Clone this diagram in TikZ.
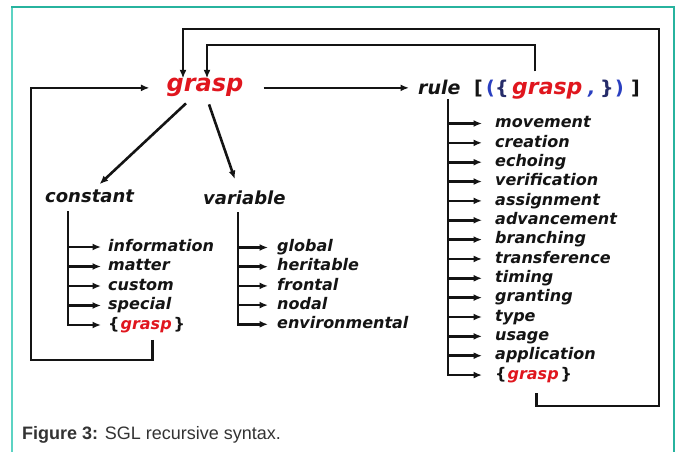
\documentclass[tikz,border=0pt]{standalone}
\usepackage{fontspec}
\usetikzlibrary{arrows.meta,calc}
\newfontfamily\djfont{DejaVu Sans}
\newfontfamily\capfont{Liberation Sans}
\definecolor{ink}{HTML}{141414}
\definecolor{gred}{HTML}{E0161E}
\definecolor{gblue}{HTML}{2A3FC0}
\definecolor{gnavy}{HTML}{262C6A}
\definecolor{frameteal}{HTML}{27B39E}
\definecolor{frameleft}{HTML}{5CD3C3}
\definecolor{captxt}{HTML}{333333}
\tikzset{
  lbl/.style={inner sep=0pt, text=ink},
  sz/.style={font=\djfont\bfseries\itshape\fontsize{#1}{#1}\selectfont},
  item/.style={lbl, sz=16, text height=12pt, text depth=3.5pt, anchor=west},
  wire/.style={draw=ink, line width=2.6pt},
  arr/.style={wire, -{Latex[length=8.5pt,width=7pt]}},
}
\begin{document}
\begin{tikzpicture}[x=1pt,y=-1pt]
\useasboundingbox (0,0) rectangle (677,452);
% page frame
\draw[frameleft, line width=2pt] (12,452) -- (12,7);
\draw[frameteal, line width=1.5pt] (11,7) -- (674,7) -- (674,452);

% main symbol
\node[lbl, sz=24, text=gred, anchor=base] (g0) at (205,92) {grasp};

% rule line
\node[lbl, sz=19, anchor=base west] (rword) at (418,94) {rule};
\node[lbl, sz=19, anchor=base west] (rb1) at (474,94) {\upshape[};
\node[lbl, sz=19, anchor=base west, text=gblue] (rb2) at (486,94) {\upshape(};
\node[lbl, sz=19, anchor=base west, text=gnavy] (rb3) at (495,94) {\upshape\{};
\node[lbl, sz=22, anchor=base west, text=gred] (rg) at (512,94) {grasp};
\node[lbl, sz=19, anchor=base west, text=gblue] (rb4) at (588,94) {,};
\node[lbl, sz=19, anchor=base west, text=gnavy] (rb5) at (600,94) {\upshape\}};
\node[lbl, sz=19, anchor=base west, text=gblue] (rb6) at (615,94) {\upshape)};
\node[lbl, sz=19, anchor=base west] (rb7) at (631,94) {\upshape]};

% categories
\node[lbl, sz=18, anchor=base west] (cst) at (45,202) {constant};
\node[lbl, sz=18, anchor=base west] (var) at (203,204) {variable};

% constant items
\foreach \t [count=\i] in {information,matter,custom,special}
  \node[item] (c\i) at (108,{247+19.5*(\i-1)}) {\t};
\node[item] (c5) at (108,325) {{\upshape\{}\hspace{1pt}\textcolor{gred}{grasp}\hspace{2pt}{\upshape\}}};

% variable items
\foreach \t [count=\i] in {global,heritable,frontal,nodal,environmental}
  \node[item] (v\i) at (277,{247.5+19.2*(\i-1)}) {\t};

% rule items
\foreach \t [count=\i] in {movement,creation,echoing,verification,assignment,advancement,branching,transference,timing,granting,type,usage,application}
  \node[item] (r\i) at (495,{123.5+19.35*(\i-1)}) {\t};
\node[item] (r14) at (495,{123.5+19.35*13}) {{\upshape\{}\hspace{1pt}\textcolor{gred}{grasp}\hspace{2pt}{\upshape\}}};

% grasp expands to constant, variable and rule
\draw[arr] ($(g0.south)+(-19,6)$) -- ($(cst.north)+(10,-5)$);
\draw[arr] ($(g0.south)+(4,7)$) -- ($(var.north)+(-9.5,-11)$);
\draw[arr, shorten <=20pt, shorten >=9pt] (g0.east) -- (g0.east -| rword.west);

% constant branch
\coordinate (ct) at ($(cst.south west)+(23,9)$);
\draw[arr, shorten >=7pt] (ct) |- (c5.west);
\foreach \i in {1,...,4}
  \draw[arr, shorten >=7pt] (ct |- c\i.west) -- (c\i.west);

% variable branch
\coordinate (vt) at ($(var.south west)+(35,8)$);
\draw[arr, shorten >=9pt] (vt) |- (v5.west);
\foreach \i in {1,...,4}
  \draw[arr, shorten >=9pt] (vt |- v\i.west) -- (v\i.west);

% rule branch
\coordinate (rt) at ($(rword.south west)+(30,5)$);
\draw[arr, shorten >=13pt] (rt) |- (r14.west);
\foreach \i in {1,...,13}
  \draw[arr, shorten >=13pt] (rt |- r\i.west) -- (r\i.west);

% recursion back to grasp
\coordinate (lowLeft) at (31,360);
\draw[arr, shorten >=17pt] ($(c5.south)+(6,7)$) |- (lowLeft) |- (g0.west);

\coordinate (outerTop) at (659,29);
\coordinate (outerLow) at (659,406);
\draw[arr] ($(r14.south)+(3,10)$) |- (outerLow) -- (outerTop) -| ($(g0.north)+(-22,0)$);

\coordinate (innerTop) at (535,45);
\draw[arr] ($(rg.north west)+(23,-10)$) -- (innerTop) -| ($(g0.north)+(2,0)$);

% caption
\node[anchor=base west, inner sep=0pt, font=\capfont\fontsize{18}{18}\selectfont, text=captxt] (cap) at (22,439) {\textbf{Figure 3:} SGL recursive syntax.};
\end{tikzpicture}
\end{document}
